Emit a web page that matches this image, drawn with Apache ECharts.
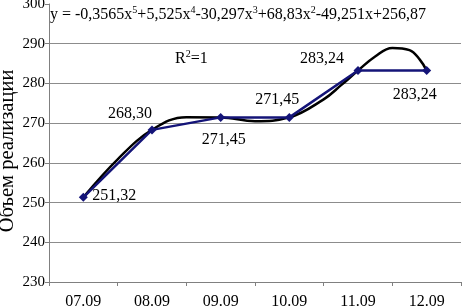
<!DOCTYPE html>
<html>
<head>
<meta charset="utf-8">
<script src="https://cdn.jsdelivr.net/npm/echarts@6/dist/echarts.min.js"></script>
<style>html,body{margin:0;padding:0;background:#fff}#c{width:462px;height:307px}</style>
</head>
<body>
<div id="c"></div>
<script>
var categories = ['07.09', '08.09', '09.09', '10.09', '11.09', '12.09'];
var salesValues = [251.32, 268.30, 271.45, 271.45, 283.24, 283.24];
var salesLabels = ['251,32', '268,30', '271,45', '271,45', '283,24', '283,24'];
// polynomial trend curve: [position (1 = first category), value]
var trendX = [1, 1.5, 2, 2.5, 3, 3.5, 4, 4.5, 4.75, 5, 5.25, 5.5, 5.75, 5.9, 6];
var trendY = [251.32, 260.9, 268.3, 271.5, 271.45, 270.5, 271.45, 276.0, 279.5, 283.24, 286.8, 288.95, 288.4, 286.0, 283.24];
var yTicks = [230, 240, 250, 260, 270, 280, 290, 300];
var yAxisTitle = 'Объем реализации';

var FONT = '"Liberation Serif", "Times New Roman", serif';
var labelOffsets = [[31, -2], [-22, -16], [3, 22], [-12, -18], [-36, -12], [-12, 24]];

var chart = echarts.init(document.getElementById('c'));
var trendData = trendX.map(function (x, i) { return [x, trendY[i]]; });
var salesData = salesValues.map(function (v, i) {
  return {
    value: v,
    label: { show: true, formatter: salesLabels[i], position: 'inside', offset: labelOffsets[i] }
  };
});
var gridColors = yTicks.map(function (t, i) { return i === yTicks.length - 1 ? 'rgba(0,0,0,0)' : '#8c8c8c'; });
var richEq = {
  n: { fontFamily: FONT, fontSize: 16, fill: '#000', verticalAlign: 'bottom', height: 20 },
  s: { fontFamily: FONT, fontSize: 10, fill: '#000', verticalAlign: 'top', height: 10 }
};

chart.setOption({
  animation: false,
  backgroundColor: '#fff',
  grid: { left: 49, right: 1, top: 4, bottom: 25, containLabel: false, outerBoundsMode: 'none' },
  xAxis: [{
    type: 'category',
    data: categories,
    boundaryGap: true,
    axisLine: { lineStyle: { color: '#808080', width: 1 } },
    axisTick: { show: true, length: 4, lineStyle: { color: '#808080' } },
    axisLabel: { color: '#000', fontFamily: FONT, fontSize: 16, margin: 12 }
  }, {
    type: 'value',
    min: 0.5,
    max: 6.5,
    show: false
  }],
  yAxis: {
    type: 'value',
    min: yTicks[0],
    max: yTicks[yTicks.length - 1],
    interval: 10,
    name: yAxisTitle,
    nameLocation: 'middle',
    nameRotate: 90,
    nameGap: 31,
    nameMoveOverlap: false,
    nameTextStyle: { color: '#000', fontFamily: FONT, fontSize: 20.5, padding: [0, 16, 0, 0] },
    axisLine: { show: true, lineStyle: { color: '#808080', width: 1 } },
    axisTick: { show: true, length: 4, lineStyle: { color: '#808080' } },
    axisLabel: { color: '#000', fontFamily: FONT, fontSize: 15, margin: 4 },
    splitLine: { show: true, lineStyle: { color: gridColors, width: 1 } }
  },
  series: [{
    type: 'line',
    xAxisIndex: 1,
    data: trendData,
    smooth: 0.4,
    showSymbol: false,
    symbol: 'none',
    lineStyle: { color: '#000', width: 2.5 },
    z: 2
  }, {
    type: 'line',
    xAxisIndex: 0,
    data: salesData,
    symbol: 'diamond',
    symbolSize: 9,
    itemStyle: { color: '#141478' },
    lineStyle: { color: '#141478', width: 2.5 },
    label: { color: '#000', fontFamily: FONT, fontSize: 16 },
    z: 3
  }],
  graphic: [{
    type: 'text',
    left: 50,
    top: 5,
    style: {
      text: '{n|y = -0,3565x}{s|5}{n|+5,525x}{s|4}{n|-30,297x}{s|3}{n|+68,83x}{s|2}{n|-49,251x+256,87}',
      rich: richEq
    }
  }, {
    type: 'text',
    left: 175,
    top: 49,
    style: {
      text: '{n|R}{s|2}{n|=1}',
      rich: richEq
    }
  }]
});
</script>
</body>
</html>
